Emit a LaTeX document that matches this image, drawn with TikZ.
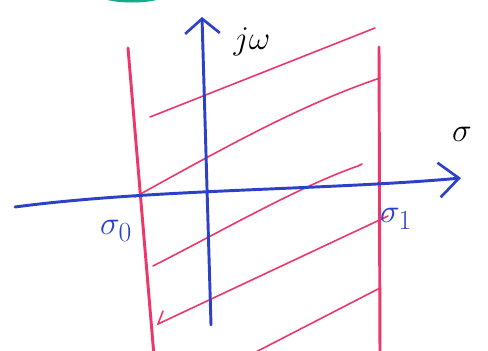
\documentclass[tikz,border=0pt]{standalone}
\usetikzlibrary{arrows.meta}
\definecolor{axiscolor}{RGB}{45,65,200}
\definecolor{stripcolor}{RGB}{235,55,105}
\definecolor{markcolor}{RGB}{20,170,140}
\tikzset{
  axis/.style={draw=axiscolor, line width=2.2pt, line cap=round},
  edge/.style={draw=stripcolor, line width=2.2pt, line cap=round},
  hatch/.style={draw=stripcolor, line width=1.2pt, line cap=round},
  lbl/.style={font=\fontsize{31}{33}\selectfont, inner sep=0pt},
}
\begin{document}
\begin{tikzpicture}[x=0.75pt, y=-0.75pt]
    \useasboundingbox (0,0) rectangle (488,350);
    \clip (0,0) rectangle (488,350);
    % Mark at the top
    \fill[markcolor] (132,-5) ellipse (33 and 7.5);
    % Strip edges
    \coordinate (e0t) at (128,48);
    \coordinate (e0b) at (154,356);
    \coordinate (e1t) at (379,47);
    \coordinate (e1b) at (380,356);
    \draw[edge] (e0t) -- (e0b);
    \draw[edge] (e1t) -- (e1b);
    % Hatching
    \coordinate (h1s) at (150,117);
    \coordinate (h1e) at (375,28);
    \draw[hatch] (h1s) -- (h1e);
    \coordinate (h2s) at (135,197);
    \coordinate (h2e) at (380,78);
    \draw[hatch] (h2s) .. controls (220,150) and (300,105) .. (h2e);
    \coordinate (h3s) at (153,266);
    \coordinate (h3e) at (358,166);
    \draw[hatch] (h3s) .. controls (220,232) and (300,186) .. (h3e) -- (362,164);
    \coordinate (h4s) at (388,216);
    \coordinate (h4e) at (158,324);
    \draw[hatch] (h4s) -- (h4e) -- (163,311);
    \coordinate (h5s) at (380,288);
    \coordinate (h5e) at (250,355);
    \draw[hatch] (h5s) -- (h5e);
    % Axes
    \coordinate (xl) at (15,207);
    \coordinate (xr) at (461,178);
    \coordinate (yb) at (211,325);
    \coordinate (yt) at (202,17);
    \draw[axis, -{Straight Barb[length=15pt, width=26pt, line width=2pt]}]
      (xl) .. controls (150,189) and (330,190) .. (xr);
    \draw[axis, -{Straight Barb[length=11pt, width=26pt, line width=2pt]}] (yb) -- (yt);
    % Labels
    \node[lbl] (jw) at (252,42) {$j\omega$};
    \node[lbl] (sig) at (462,134) {$\sigma$};
    \node[lbl, text=axiscolor] (s0) at (116,231) {$\sigma_0$};
    \node[lbl, text=axiscolor] (s1) at (396,219) {$\sigma_1$};
\end{tikzpicture}
\end{document}
